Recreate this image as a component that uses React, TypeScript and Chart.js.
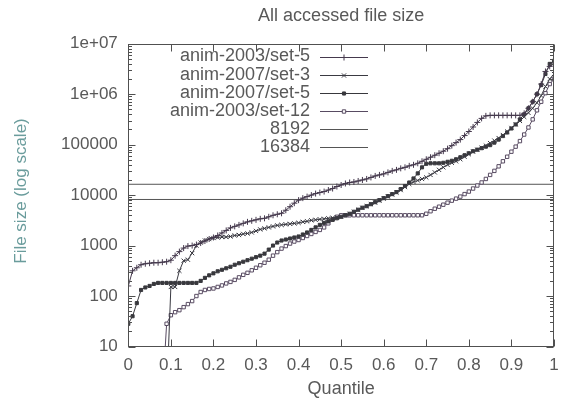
import React, { useEffect, useRef } from "react";
import { Chart, registerables } from "chart.js";
import { drawPoint } from "chart.js/helpers";

Chart.register(...registerables);

// Quantile positions (x values)
const quantiles = [
  0, 0.01, 0.02, 0.03, 0.04, 0.05, 0.06, 0.07, 0.08, 0.09,
  0.1, 0.11, 0.12, 0.13, 0.14, 0.15, 0.16, 0.17, 0.18, 0.19,
  0.2, 0.21, 0.22, 0.23, 0.24, 0.25, 0.26, 0.27, 0.28, 0.29,
  0.3, 0.31, 0.32, 0.33, 0.34, 0.35, 0.36, 0.37, 0.38, 0.39,
  0.4, 0.41, 0.42, 0.43, 0.44, 0.45, 0.46, 0.47, 0.48, 0.49,
  0.5, 0.51, 0.52, 0.53, 0.54, 0.55, 0.56, 0.57, 0.58, 0.59,
  0.6, 0.61, 0.62, 0.63, 0.64, 0.65, 0.66, 0.67, 0.68, 0.69,
  0.7, 0.71, 0.72, 0.73, 0.74, 0.75, 0.76, 0.77, 0.78, 0.79,
  0.8, 0.81, 0.82, 0.83, 0.84, 0.85, 0.86, 0.87, 0.88, 0.89,
  0.9, 0.91, 0.92, 0.93, 0.94, 0.95, 0.96, 0.97, 0.98, 0.99,
  1,
];

// File sizes, stored as log10(bytes)
const log10Size2003Set5 = [
  2.2, 2.5, 2.56, 2.62, 2.64, 2.65, 2.66, 2.66, 2.67, 2.68,
  2.71, 2.8, 2.88, 2.95, 2.99, 3.0, 3.02, 3.05, 3.09, 3.13,
  3.16, 3.2, 3.25, 3.3, 3.35, 3.38, 3.41, 3.44, 3.47, 3.49,
  3.51, 3.53, 3.54, 3.57, 3.6, 3.62, 3.64, 3.7, 3.77, 3.84,
  3.9, 3.94, 3.97, 4.0, 4.03, 4.05, 4.07, 4.1, 4.13, 4.17,
  4.2, 4.23, 4.25, 4.26, 4.28, 4.3, 4.32, 4.35, 4.38, 4.4,
  4.42, 4.45, 4.48, 4.5, 4.53, 4.55, 4.58, 4.6, 4.63, 4.67,
  4.71, 4.75, 4.79, 4.83, 4.87, 4.92, 4.98, 5.04, 5.1, 5.18,
  5.26, 5.35, 5.44, 5.52, 5.57, 5.58, 5.58, 5.58, 5.58, 5.58,
  5.58, 5.58, 5.58, 5.62, 5.72, 5.85, 6.0, 6.2, 6.45, 6.55,
  6.6,
];

const log10Size2007Set3 = [
  0, 0, 0, 0, 0, 0, 0, 0, 0, 0,
  2.18, 2.18, 2.5, 2.7, 2.72, 2.85, 3.0, 3.06, 3.1, 3.13,
  3.15, 3.16, 3.17, 3.17, 3.18, 3.2, 3.21, 3.23, 3.24, 3.26,
  3.29, 3.32, 3.34, 3.36, 3.38, 3.4, 3.41, 3.42, 3.43, 3.44,
  3.45, 3.47, 3.48, 3.5, 3.51, 3.52, 3.53, 3.54, 3.55, 3.56,
  3.57, 3.6, 3.63, 3.67, 3.71, 3.75, 3.78, 3.82, 3.85, 3.89,
  3.93, 3.97, 4.01, 4.05, 4.1, 4.16, 4.22, 4.26, 4.29, 4.32,
  4.35, 4.4, 4.45, 4.5, 4.55, 4.6, 4.64, 4.67, 4.71, 4.76,
  4.81, 4.86, 4.9, 4.94, 4.98, 5.03, 5.08, 5.13, 5.19, 5.26,
  5.33, 5.4, 5.47, 5.55, 5.63, 5.72, 5.83, 5.97, 6.15, 6.3,
  6.4,
];

const log10Size2007Set5 = [
  1.45, 1.6, 1.86, 2.12, 2.17, 2.2, 2.24, 2.26, 2.26, 2.26,
  2.26, 2.26, 2.26, 2.26, 2.26, 2.26, 2.26, 2.3, 2.36, 2.41,
  2.45, 2.49, 2.52, 2.55, 2.58, 2.62, 2.65, 2.68, 2.71, 2.74,
  2.77, 2.8, 2.84, 2.92, 3.0, 3.06, 3.1, 3.12, 3.14, 3.16,
  3.18, 3.22, 3.26, 3.31, 3.36, 3.41, 3.45, 3.48, 3.51, 3.54,
  3.57, 3.6, 3.63, 3.67, 3.71, 3.75, 3.78, 3.82, 3.86, 3.9,
  3.94, 3.98, 4.02, 4.06, 4.12, 4.18, 4.25, 4.33, 4.43, 4.55,
  4.62, 4.63, 4.63, 4.63, 4.64, 4.66, 4.68, 4.71, 4.75, 4.79,
  4.83, 4.87, 4.9, 4.93, 4.96, 4.99, 5.04, 5.1, 5.17, 5.24,
  5.32, 5.4, 5.5, 5.6, 5.72, 5.85, 6.0, 6.18, 6.4, 6.6,
  6.66,
];

const log10Size2003Set12 = [
  0, 0, 0, 0, 0, 0, 0, 0, 0, 1.45,
  1.62, 1.68, 1.72, 1.78, 1.84, 1.9, 2.0, 2.08, 2.12, 2.14,
  2.15, 2.18, 2.21, 2.25, 2.28, 2.32, 2.37, 2.42, 2.46, 2.51,
  2.56, 2.61, 2.66, 2.72, 2.8, 2.87, 2.94, 2.99, 3.04, 3.08,
  3.11, 3.15, 3.19, 3.23, 3.27, 3.31, 3.36, 3.44, 3.52, 3.57,
  3.6, 3.6, 3.6, 3.6, 3.6, 3.6, 3.6, 3.6, 3.6, 3.6,
  3.6, 3.6, 3.6, 3.6, 3.6, 3.6, 3.6, 3.6, 3.6, 3.6,
  3.63, 3.68, 3.73, 3.77, 3.81, 3.85, 3.89, 3.93, 3.97, 4.02,
  4.07, 4.13, 4.19, 4.25, 4.32, 4.4, 4.48, 4.57, 4.67, 4.76,
  4.86, 4.96, 5.07, 5.2, 5.34, 5.5, 5.68, 5.85, 6.02, 6.2,
  6.3,
];

const seriesLabels = ["anim-2003/set-5", "anim-2007/set-3", "anim-2007/set-5", "anim-2003/set-12"];
const refLineValues = [8192, 16384];
const refLineLabels = ["8192", "16384"];

const yTickValues = [10, 100, 1000, 10000, 100000, 1000000, 10000000];
const yTickLabels = ["10", "100", "1000", "10000", "100000", "1e+06", "1e+07"];
const xTickValues = [0, 0.1, 0.2, 0.3, 0.4, 0.5, 0.6, 0.7, 0.8, 0.9, 1];
const xTickLabels = ["0", "0.1", "0.2", "0.3", "0.4", "0.5", "0.6", "0.7", "0.8", "0.9", "1"];

const chartTitle = "All accessed file size";
const xAxisTitle = "Quantile";
const yAxisTitle = "File size (log scale)";

const FONT = "'Liberation Sans', Arial, Helvetica, sans-serif";
const TEXT_COLOR = "#595959";
const FRAME_COLOR = "#505050";

const toPoints = (logs: number[]) =>
  quantiles.map((q, i) => ({ x: q, y: Math.pow(10, logs[i]) }));

const framePlugin = {
  id: "gnuFrame",
  afterDatasetsDraw(chart: any) {
    const { ctx, chartArea } = chart;
    const { left, right, top, bottom } = chartArea;
    const x = chart.scales.x;
    const y = chart.scales.y;
    ctx.save();
    ctx.strokeStyle = FRAME_COLOR;
    ctx.lineWidth = 1;
    const l = Math.round(left) + 0.5;
    const t = Math.round(top) + 0.5;
    const r = Math.round(right) - 0.5;
    const b = Math.round(bottom) - 0.5;
    ctx.strokeRect(l, t, r - l, b - t);
    ctx.beginPath();
    for (let d = 0; d < yTickValues.length; d++) {
      const base = yTickValues[d];
      const py = Math.round(y.getPixelForValue(base)) + 0.5;
      ctx.moveTo(l, py); ctx.lineTo(l + 7, py);
      ctx.moveTo(r, py); ctx.lineTo(r - 7, py);
      if (d < yTickValues.length - 1) {
        for (let m = 2; m <= 9; m++) {
          const pm = Math.round(y.getPixelForValue(base * m)) + 0.5;
          ctx.moveTo(l, pm); ctx.lineTo(l + 3.5, pm);
          ctx.moveTo(r, pm); ctx.lineTo(r - 3.5, pm);
        }
      }
    }
    for (const v of xTickValues) {
      const px = Math.round(x.getPixelForValue(v)) + 0.5;
      ctx.moveTo(px, b); ctx.lineTo(px, b - 7);
      ctx.moveTo(px, t); ctx.lineTo(px, t + 7);
    }
    ctx.stroke();
    ctx.restore();
  },
  afterDraw(chart: any) {
    const { ctx } = chart;
    ctx.save();
    ctx.translate(21.5, 191);
    ctx.rotate(-Math.PI / 2);
    ctx.font = `17px ${FONT}`;
    ctx.fillStyle = "#6a9c9c";
    ctx.textAlign = "center";
    ctx.textBaseline = "middle";
    ctx.fillText(yAxisTitle, 0, 0);
    ctx.restore();
  },
};

const legendPlugin = {
  id: "gnuLegend",
  afterDraw(chart: any) {
    const { ctx } = chart;
    const textRight = 310;
    const sampleL = 320;
    const sampleR = 368;
    const rowTop = 56.5;
    const rowStep = 18.1;
    ctx.save();
    ctx.font = `18px ${FONT}`;
    ctx.textAlign = "right";
    ctx.textBaseline = "middle";
    chart.data.datasets.forEach((ds: any, i: number) => {
      const ry = rowTop + i * rowStep;
      ctx.fillStyle = TEXT_COLOR;
      ctx.fillText(ds.label, textRight, ry);
      const ly = Math.round(ry) + 0.5;
      ctx.strokeStyle = ds.borderColor;
      ctx.lineWidth = 1;
      ctx.beginPath();
      ctx.moveTo(sampleL, ly);
      ctx.lineTo(sampleR, ly);
      ctx.stroke();
      if (ds.pointRadius > 0) {
        ctx.fillStyle = ds.pointBackgroundColor;
        ctx.strokeStyle = ds.pointBorderColor;
        ctx.lineWidth = 1;
        drawPoint(ctx, { pointStyle: ds.pointStyle, radius: ds.pointRadius, rotation: 0, borderWidth: 1 }, (sampleL + sampleR) / 2, ly);
      }
    });
    ctx.restore();
  },
};

export default function App() {
  const canvasRef = useRef<HTMLCanvasElement | null>(null);

  useEffect(() => {
    if (!canvasRef.current) return;
    const seriesColors = ["#45394d", "#3a3a42", "#38383d", "#584b62"];
    const pointStyles = ["cross", "crossRot", "rect", "rect"];
    const pointFills = ["#45394d", "#3a3a42", "#38383d", "#ffffff"];
    const pointSizes = [3, 3, 2.2, 2.4];
    const logs = [log10Size2003Set5, log10Size2007Set3, log10Size2007Set5, log10Size2003Set12];

    const datasets: any[] = seriesLabels.map((label, i) => ({
      label,
      data: toPoints(logs[i]),
      borderColor: seriesColors[i],
      borderWidth: 1,
      pointStyle: pointStyles[i],
      pointRadius: pointSizes[i],
      pointBorderWidth: 1,
      pointBorderColor: seriesColors[i],
      pointBackgroundColor: pointFills[i],
      fill: false,
      tension: 0,
    }));
    refLineValues.forEach((v, i) => {
      datasets.push({
        label: refLineLabels[i],
        data: [{ x: 0, y: v }, { x: 1, y: v }],
        borderColor: "#555555",
        borderWidth: 1,
        pointRadius: 0,
        pointBorderColor: "#555555",
        pointBackgroundColor: "#555555",
        fill: false,
      });
    });

    const chart = new Chart(canvasRef.current, {
      type: "line",
      data: { datasets },
      options: {
        animation: false,
        responsive: false,
        layout: { padding: { left: 0, right: 5.3, top: 0, bottom: 0 } },
        plugins: {
          legend: { display: false },
          tooltip: { enabled: false },
          title: {
            display: true,
            fullSize: false,
            text: chartTitle,
            color: TEXT_COLOR,
            font: { family: FONT, size: 18, weight: "normal" },
            padding: { top: 5.2, bottom: 16.9 },
          },
        },
        scales: {
          x: {
            type: "linear",
            min: 0,
            max: 1,
            grid: { display: false, drawTicks: false },
            border: { display: false },
            afterBuildTicks: (scale: any) => {
              scale.ticks = xTickValues.map((v) => ({ value: v }));
            },
            afterFit: (scale: any) => {
              scale.height = 54.5;
            },
            ticks: {
              autoSkip: false,
              maxRotation: 0,
              color: TEXT_COLOR,
              font: { family: FONT, size: 17 },
              padding: 8.3,
              callback: (_v: any, i: number) => xTickLabels[i],
            },
            title: {
              display: true,
              text: xAxisTitle,
              color: TEXT_COLOR,
              font: { family: FONT, size: 18 },
              padding: { top: 0, bottom: 1.5 },
            },
          },
          y: {
            type: "logarithmic",
            min: 10,
            max: 10000000,
            grid: { display: false, drawTicks: false },
            border: { display: false },
            afterBuildTicks: (scale: any) => {
              scale.ticks = yTickValues.map((v) => ({ value: v }));
            },
            afterFit: (scale: any) => {
              scale.width = 128.3;
            },
            ticks: {
              autoSkip: false,
              color: TEXT_COLOR,
              font: { family: FONT, size: 17 },
              padding: 10.5,
              callback: (_v: any, i: number) => yTickLabels[i],
            },
            title: { display: false },
          },
        },
      },
      plugins: [framePlugin, legendPlugin],
    });
    return () => chart.destroy();
  }, []);

  return (
    <div style={{ position: "fixed", left: 0, top: 0, width: 567, height: 401, background: "#fff" }}>
      <canvas ref={canvasRef} width={567} height={401} style={{ width: 567, height: 401, display: "block" }} />
    </div>
  );
}
